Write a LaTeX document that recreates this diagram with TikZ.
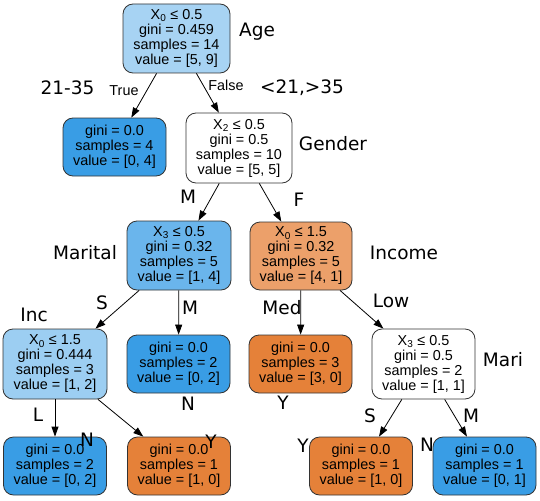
\documentclass[tikz,border=0pt]{standalone}
\usepackage{fontspec}
\setmainfont{Liberation Sans}
\newfontfamily\labfont{DejaVu Sans}
\usetikzlibrary{arrows.meta}
\definecolor{pureblue}{HTML}{399DE5}
\definecolor{pureorange}{HTML}{E58139}
\definecolor{paleblue}{HTML}{A7D3F3}
\definecolor{incblue}{HTML}{9CCEF2}
\definecolor{midblue}{HTML}{6AB5EC}
\definecolor{midorange}{HTML}{ECA06A}
\newcommand{\featx}[1]{X\textsubscript{#1}}
\tikzset{
	split/.style={draw=black!80, line width=0.8pt, rounded corners=10pt, align=center,
		minimum width=103pt, minimum height=69pt, inner sep=1pt,
		font=\fontsize{14.4}{15}\selectfont},
	leaf/.style={split, minimum height=58pt},
	edge/.style={-{Triangle[length=10pt,width=7pt]}, line width=0.8pt},
	tag/.style={font=\labfont\fontsize{18.5}{20}\selectfont, inner sep=0pt},
	cond/.style={font=\fontsize{14.4}{15}\selectfont, inner sep=0pt}
}

\begin{document}
\begin{tikzpicture}[x=1pt,y=-1pt]
		\useasboundingbox (0,0) rectangle (540,500);
		% tree nodes
		\node [split, fill=paleblue, minimum width=107pt] (root) at (176.5,38.5) {\featx{0} ≤ 0.5\\gini = 0.459\\samples = 14\\value = [5, 9]};
		\node [leaf, fill=pureblue] (young) at (114.5,147) {gini = 0.0\\samples = 4\\value = [0, 4]};
		\node [split, fill=white, minimum width=106pt, minimum height=70pt] (gender) at (239,148) {\featx{2} ≤ 0.5\\gini = 0.5\\samples = 10\\value = [5, 5]};
		\node [split, fill=midblue, minimum width=104pt] (marital) at (179,255.5) {\featx{3} ≤ 0.5\\gini = 0.32\\samples = 5\\value = [1, 4]};
		\node [split, fill=midorange, minimum width=102pt, minimum height=68pt] (income) at (301,256) {\featx{0} ≤ 1.5\\gini = 0.32\\samples = 5\\value = [4, 1]};
		\node [split, fill=incblue, minimum width=104pt, minimum height=70pt] (inc) at (55,364) {\featx{0} ≤ 1.5\\gini = 0.444\\samples = 3\\value = [1, 2]};
		\node [leaf, fill=pureblue] (married) at (178.5,364) {gini = 0.0\\samples = 2\\value = [0, 2]};
		\node [leaf, fill=pureorange] (medium) at (300.5,364) {gini = 0.0\\samples = 3\\value = [3, 0]};
		\node [split, fill=white, minimum height=70pt] (mari) at (423.5,364) {\featx{3} ≤ 0.5\\gini = 0.5\\samples = 2\\value = [1, 1]};
		\node [leaf, fill=pureblue] (incl) at (55,466) {gini = 0.0\\samples = 2\\value = [0, 2]};
		\node [leaf, fill=pureorange] (inch) at (179,466) {gini = 0.0\\samples = 1\\value = [1, 0]};
		\node [leaf, fill=pureorange] (maris) at (361,466) {gini = 0.0\\samples = 1\\value = [1, 0]};
		\node [leaf, fill=pureblue] (marim) at (484.5,466) {gini = 0.0\\samples = 1\\value = [0, 1]};
		% edges
		\draw [edge] (root) -- (young);
		\draw [edge] (root) -- (gender);
		\draw [edge] (gender) -- (marital);
		\draw [edge] (gender) -- (income);
		\draw [edge] (marital) -- (inc);
		\draw [edge] (marital) -- (married);
		\draw [edge] (income) -- (medium);
		\draw [edge] (income) -- (mari);
		\draw [edge] (inc) -- (incl);
		\draw [edge] (inc) -- (inch);
		\draw [edge] (mari) -- (maris);
		\draw [edge] (mari) -- (marim);
		% edge labels
		\node [cond] (ltrue) at (124,91) {True};
		\node [cond] (lfalse) at (226,85) {False};
		% feature and value notes
		\node [tag] (tage) at (257,32) {Age};
		\node [tag] (tyoung) at (67.5,88) {21-35};
		\node [tag] (told) at (302,88) {<21,>35};
		\node [tag] (tgender) at (333,144) {Gender};
		\node [tag] (tm) at (188,197) {M};
		\node [tag] (tf) at (299,200) {F};
		\node [tag] (tmarital) at (85,253) {Marital};
		\node [tag] (tincome) at (404,253) {Income};
		\node [tag] (ts) at (102,303) {S};
		\node [tag] (tmm) at (190,308) {M};
		\node [tag] (tmed) at (282,308) {Med};
		\node [tag] (tlow) at (391,301) {Low};
		\node [tag] (tinc) at (34,315) {Inc};
		\node [tag] (tn) at (188,404) {N};
		\node [tag] (ty) at (283,403) {Y};
		\node [tag] (tmari) at (503,360) {Mari};
		\node [tag] (tl) at (38,415) {L};
		\node [tag] (tss) at (370,416) {S};
		\node [tag] (tms) at (471,416) {M};
		\node [tag] (tnl) at (87,440) {N};
		\node [tag] (tyl) at (211,442) {Y};
		\node [tag] (tyr) at (303,446) {Y};
		\node [tag] (tnr) at (427,445) {N};
\end{tikzpicture}
\end{document}
